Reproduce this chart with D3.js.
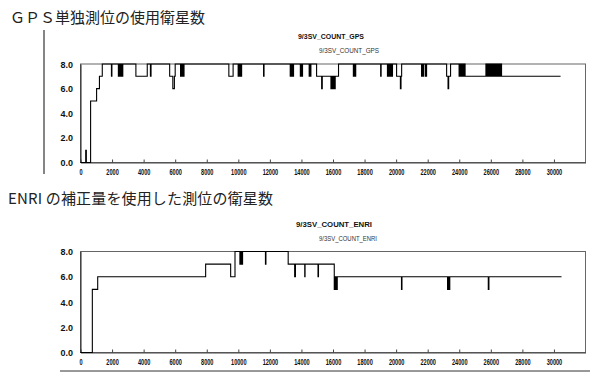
<!DOCTYPE html>
<html><head><meta charset="utf-8">
<script src="https://cdn.jsdelivr.net/npm/d3@7"></script>
<style>
html,body{margin:0;padding:0;background:#fff;}
svg{display:block;}
</style></head>
<body>
<svg id="chart" width="600" height="382"></svg>
<script>
// ---- data ----
const headingTop = "ＧＰＳ単独測位の使用衛星数";
const headingBottom = "ENRI の補正量を使用した測位の衛星数";
const titleTop = "9/3SV_COUNT_GPS";
const titleBottom = "9/3SV_COUNT_ENRI";
const xTicks = [0,2000,4000,6000,8000,10000,12000,14000,16000,18000,20000,22000,24000,26000,28000,30000];
const yTicks = [0,2,4,6,8];
const xDomain = [0, 32000];
const yDomain = [0, 8];

// [time, satellite count] step points (value holds until next point)
const gpsSeries = [
 [0,0],[330,1],[370,0],[640,5],[1020,6],[1200,7],[1380,8],
 [1960,7],[1990,8],
 [2400,7],[2440,8],[2470,7],[2510,8],[2540,7],[2580,8],[2600,7],[2640,8],[2650,7],[2680,8],
 [3510,7],[4230,8],
 [4430,7],[4470,8],
 [5650,7],[5850,6],[5950,7],[6000,8],
 [6340,7],[6380,8],[6420,7],[6460,8],[6480,7],[6520,8],[6530,7],[6560,8],
 [9400,7],[9670,8],
 [9990,7],[10030,8],[10060,7],[10100,8],[10130,7],[10170,8],[10180,7],[10210,8],
 [11600,7],[11630,8],
 [13290,7],[13330,8],[13360,7],[13410,8],[13440,7],[13500,8],
 [13930,7],[13970,8],[14000,7],[14070,8],
 [14490,7],[14520,8],[14560,7],[14600,8],
 [14960,7],[15280,6],[15320,7],[15870,6],[15900,7],[15930,6],[15970,7],[16000,6],[16050,7],[16080,6],[16140,7],[16350,8],
 [17290,7],[17330,8],[17400,7],[17440,8],
 [19020,7],[19050,8],
 [19450,7],[19500,8],[19530,7],[19600,8],[19640,7],[19700,8],[19720,7],[19770,8],
 [20030,7],[20270,6],[20310,7],[20350,8],
 [21610,7],[21650,8],[21700,7],[21740,8],[21850,7],[21890,8],[21900,7],[21930,8],
 [23200,7],[23290,6],[23330,7],[23450,8],
 [23990,7],[24030,8],[24080,7],[24120,8],[24160,7],[24200,8],[24230,7],[24280,8],[24300,7],[24350,8],[24370,7],
 [25690,8],[25730,7],[25760,8],[25800,7],[25840,8],[25870,7],[25920,8],[25960,7],[26000,8],[26040,7],[26080,8],
 [26110,7],[26150,8],[26200,7],[26240,8],[26280,7],[26320,8],[26360,7],[26400,8],[26440,7],[26480,8],[26520,7],
 [26560,8],[26600,7],[26640,8],[26680,7],
 [30420,7]
];

const enriSeries = [
 [0,0],[750,5],[1090,6],[7930,7],[9515,6],[9790,8],
 [10100,7],[10140,8],[10170,7],[10210,8],[10230,7],[10270,8],
 [11720,7],[11750,8],
 [13160,7],
 [13570,6],[13620,7],
 [14210,6],[14230,7],
 [15050,6],[15080,7],
 [16080,5],[16120,6],[16150,5],[16200,6],[16230,5],[16270,6],
 [20340,5],[20370,6],
 [23260,5],[23300,6],[23330,5],[23400,6],
 [25840,5],[25880,6],
 [30480,6]
];

// ---- drawing ----
const svg = d3.select("#chart");
svg.append("rect").attr("width",600).attr("height",382).attr("fill","#fff");

const jpFont = "'Noto Sans CJK JP','Noto Sans',sans-serif";
const numFont = "'Liberation Sans','DejaVu Sans',sans-serif";

svg.append("text").attr("x",10).attr("y",23)
  .attr("font-family",jpFont).attr("font-size",15).attr("fill","#222")
  .text(headingTop);
svg.append("text").attr("x",8).attr("y",204)
  .attr("font-family",jpFont).attr("font-size",15).attr("fill","#222")
  .attr("textLength",265).attr("lengthAdjust","spacing")
  .text(headingBottom);

// page decoration lines from the scan
svg.append("line").attr("x1",44).attr("x2",44).attr("y1",30).attr("y2",174)
  .attr("stroke","#333").attr("stroke-width",1.2);
svg.append("line").attr("x1",60).attr("x2",590).attr("y1",371).attr("y2",371)
  .attr("stroke","#333").attr("stroke-width",1);

function drawChart(cfg){
  const x = d3.scaleLinear().domain(xDomain).range([80.5, 585.5]);
  const y = d3.scaleLinear().domain(yDomain).range([cfg.yBottom, cfg.yTop]);
  const g = svg.append("g");

  // titles
  g.append("text").attr("x",cfg.t1x).attr("y",cfg.t1y)
    .attr("font-family",numFont).attr("font-weight","bold").attr("font-size",8)
    .attr("textLength",cfg.t1len).attr("lengthAdjust","spacingAndGlyphs")
    .attr("fill","#111").text(cfg.title);
  g.append("text").attr("x",cfg.t2x).attr("y",cfg.t2y)
    .attr("font-family",numFont).attr("font-size",7)
    .attr("textLength",cfg.t2len).attr("lengthAdjust","spacingAndGlyphs")
    .attr("fill","#333").text(cfg.title);

  // frame
  g.append("rect").attr("x",x(xDomain[0])).attr("y",y(yDomain[1]))
    .attr("width",x(xDomain[1])-x(xDomain[0])).attr("height",y(yDomain[0])-y(yDomain[1]))
    .attr("fill","none").attr("stroke","#666").attr("stroke-width",1);

  // x axis
  const xa = g.append("g").attr("transform",`translate(0,${cfg.yBottom})`)
    .call(d3.axisBottom(x).tickValues(xTicks).tickSize(-3).tickSizeOuter(0).tickPadding(6).tickFormat(d=>String(d)));
  xa.select(".domain").attr("stroke","#444");
  xa.selectAll(".tick line").attr("stroke","#444");
  xa.selectAll(".tick text").attr("font-family",numFont).attr("font-weight","bold")
    .attr("font-size",9).attr("fill","#111")
    .attr("textLength",function(d){return String(d).length*3.1;})
    .attr("lengthAdjust","spacingAndGlyphs");

  // y axis
  const ya = g.append("g").attr("transform",`translate(${x(xDomain[0])},0)`)
    .call(d3.axisLeft(y).tickValues(yTicks).tickSize(0).tickPadding(7.5).tickFormat(d3.format(".1f")));
  ya.select(".domain").attr("stroke","#222");
  ya.selectAll(".tick text").attr("font-family",numFont).attr("font-weight","bold")
    .attr("font-size",9.5).attr("fill","#111")
    .attr("textLength",12.5).attr("lengthAdjust","spacingAndGlyphs");

  // series
  const line = d3.line().x(d=>x(d[0])).y(d=>y(d[1])).curve(d3.curveStepAfter);
  g.append("path").datum(cfg.data).attr("d",line)
    .attr("fill","none").attr("stroke","#000").attr("stroke-width",1.1);
}

drawChart({data:gpsSeries, title:titleTop, yTop:64, yBottom:162.5,
  t1x:298, t1y:39, t1len:66, t2x:319, t2y:53, t2len:60});
drawChart({data:enriSeries, title:titleBottom, yTop:251.5, yBottom:352.5,
  t1x:296, t1y:227, t1len:76, t2x:319, t2y:241, t2len:58});
</script>
</body></html>
